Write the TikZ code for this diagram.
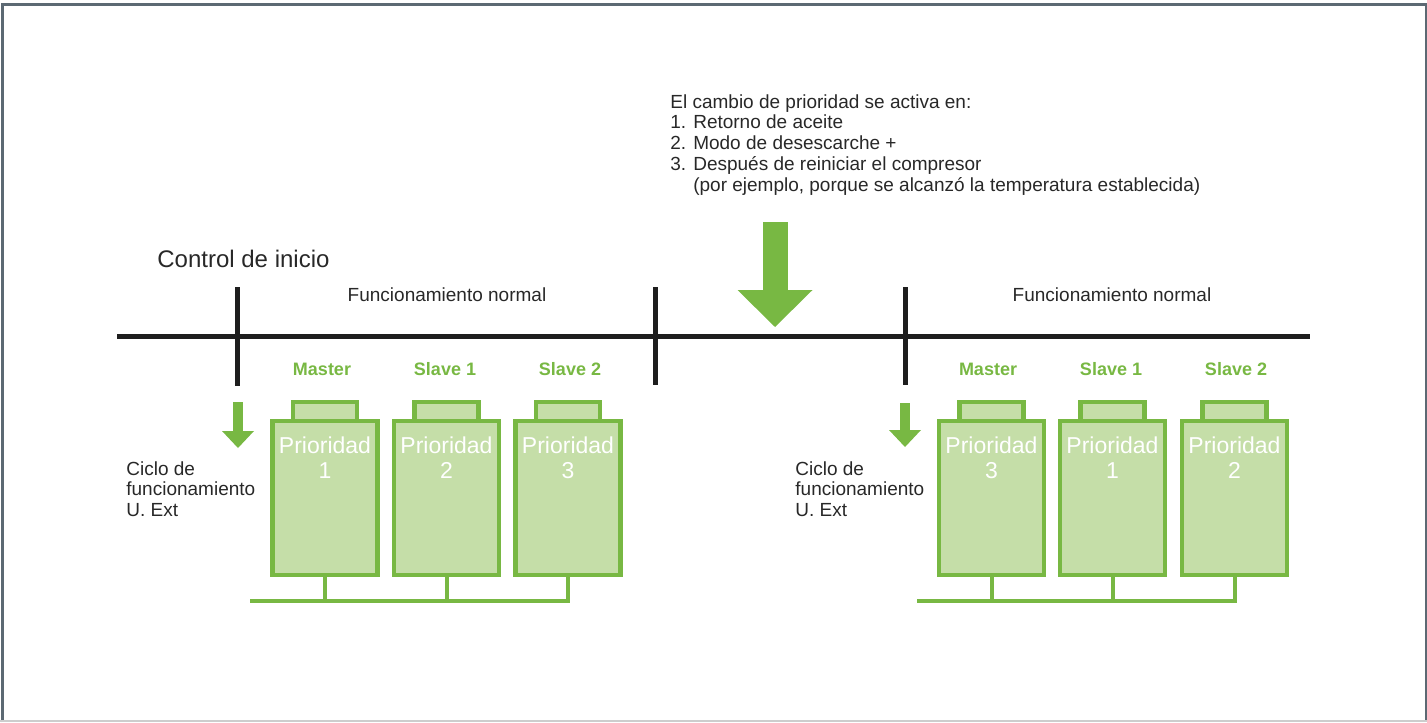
\documentclass[tikz,border=0pt]{standalone}
\usepackage{fontspec}
\setmainfont{Liberation Sans}
\usetikzlibrary{arrows.meta,positioning,calc}
\definecolor{bgreen}{RGB}{120,184,67}
\definecolor{blight}{RGB}{197,222,168}
\definecolor{bblack}{RGB}{30,30,30}
\definecolor{btext}{RGB}{40,40,40}
\definecolor{bframe}{RGB}{92,105,115}
\definecolor{bedge}{RGB}{205,205,205}

\begin{document}
\begin{tikzpicture}[x=0.5pt, y=-0.5pt,
  comp/.style={draw=bgreen, fill=blight, line width=2.2pt, minimum width=52.5pt, minimum height=77pt, inner sep=0pt, outer sep=0pt},
  lid/.style={draw=bgreen, fill=blight, line width=2.2pt, minimum width=32pt, minimum height=9.5pt, inner sep=0pt, outer sep=0pt, anchor=south},
  prio/.style={text=white, font=\fontsize{11.5}{12.5}\selectfont, align=center, inner sep=0pt, anchor=north},
  role/.style={text=bgreen, font=\fontsize{9}{10}\selectfont\bfseries, inner sep=0pt, anchor=base},
  txt/.style={text=btext, font=\fontsize{9.5}{10.4}\selectfont, inner sep=0pt, align=left},
  pipe/.style={draw=bgreen, line width=2pt},
  axis/.style={draw=bblack, line width=2.5pt},
  fatarr/.style={draw=bgreen, line width=12.5pt, -{Triangle[length=18.5pt, width=37.5pt, line width=0pt]}},
  slimarr/.style={draw=bgreen, line width=5pt, -{Triangle[length=8.5pt, width=16pt, line width=0pt]}}
]
\useasboundingbox (0,0) rectangle (1427,722);
\draw[bframe, line width=1.5pt] (2,722) -- (2,4.5) -- (1426,4.5) -- (1426,722);
\draw[bedge, line width=1pt] (0,721) -- (1427,721);

\node[txt, anchor=north west] (note) at (670,94) {El cambio de prioridad se activa en:\\1. Retorno de aceite\\2. Modo de desescarche +\\3. Después de reiniciar el compresor\\\phantom{3. }(por ejemplo, porque se alcanzó la temperatura establecida)};
\node[txt, font=\fontsize{12}{14}\selectfont, anchor=base west] (start) at (157,267) {Control de inicio};
\node[txt, anchor=base] (run1) at (447,301) {Funcionamiento normal};
\node[txt, anchor=base] (run2) at (1112,301) {Funcionamiento normal};

\coordinate (t0) at (117,336);
\coordinate (t1) at (1310,336);
\draw[axis] (t0) -- (t1);
\draw[axis] (237.5,287) -- (237.5,386);
\draw[axis] (655,287) -- (655,385);
\draw[axis] (905,287) -- (905,385);
\draw[fatarr] (775,222) -- (775,327);

\draw[slimarr] (238,402) -- (238,448);
\draw[slimarr] (905,403) -- (905,447);
\node[txt, anchor=north west] (cyc1) at (126,461) {Ciclo de\\funcionamiento\\U. Ext};
\node[txt, anchor=north west] (cyc2) at (795,461) {Ciclo de\\funcionamiento\\U. Ext};

\node[role] (m1) at (322,375) {Master};
\node[role] (s11) at (445,375) {Slave 1};
\node[role] (s21) at (570,375) {Slave 2};
\node[role] (m2) at (988,375) {Master};
\node[role] (s12) at (1111,375) {Slave 1};
\node[role] (s22) at (1236,375) {Slave 2};

\node[comp] (c1) at (325,498) {};
\node[lid] (c1lid) at (c1.north) {};
\node[prio] (c1txt) at ([yshift=-7.5pt]c1.north) {Prioridad\\1};
\node[comp] (c2) at (446.5,498) {};
\node[lid] (c2lid) at (c2.north) {};
\node[prio] (c2txt) at ([yshift=-7.5pt]c2.north) {Prioridad\\2};
\node[comp] (c3) at (568,498) {};
\node[lid] (c3lid) at (c3.north) {};
\node[prio] (c3txt) at ([yshift=-7.5pt]c3.north) {Prioridad\\3};

\node[comp] (d1) at (991.5,498) {};
\node[lid] (d1lid) at (d1.north) {};
\node[prio] (d1txt) at ([yshift=-7.5pt]d1.north) {Prioridad\\3};
\node[comp] (d2) at (1112.5,498) {};
\node[lid] (d2lid) at (d2.north) {};
\node[prio] (d2txt) at ([yshift=-7.5pt]d2.north) {Prioridad\\1};
\node[comp] (d3) at (1234.5,498) {};
\node[lid] (d3lid) at (d3.north) {};
\node[prio] (d3txt) at ([yshift=-7.5pt]d3.north) {Prioridad\\2};

\coordinate (p1) at (250,601);
\draw[pipe] (p1) -| (c3.south);
\draw[pipe] (c1.south) -- (c1.south |- p1);
\draw[pipe] (c2.south) -- (c2.south |- p1);
\coordinate (p2) at (917,601);
\draw[pipe] (p2) -| (d3.south);
\draw[pipe] (d1.south) -- (d1.south |- p2);
\draw[pipe] (d2.south) -- (d2.south |- p2);
\end{tikzpicture}
\end{document}
